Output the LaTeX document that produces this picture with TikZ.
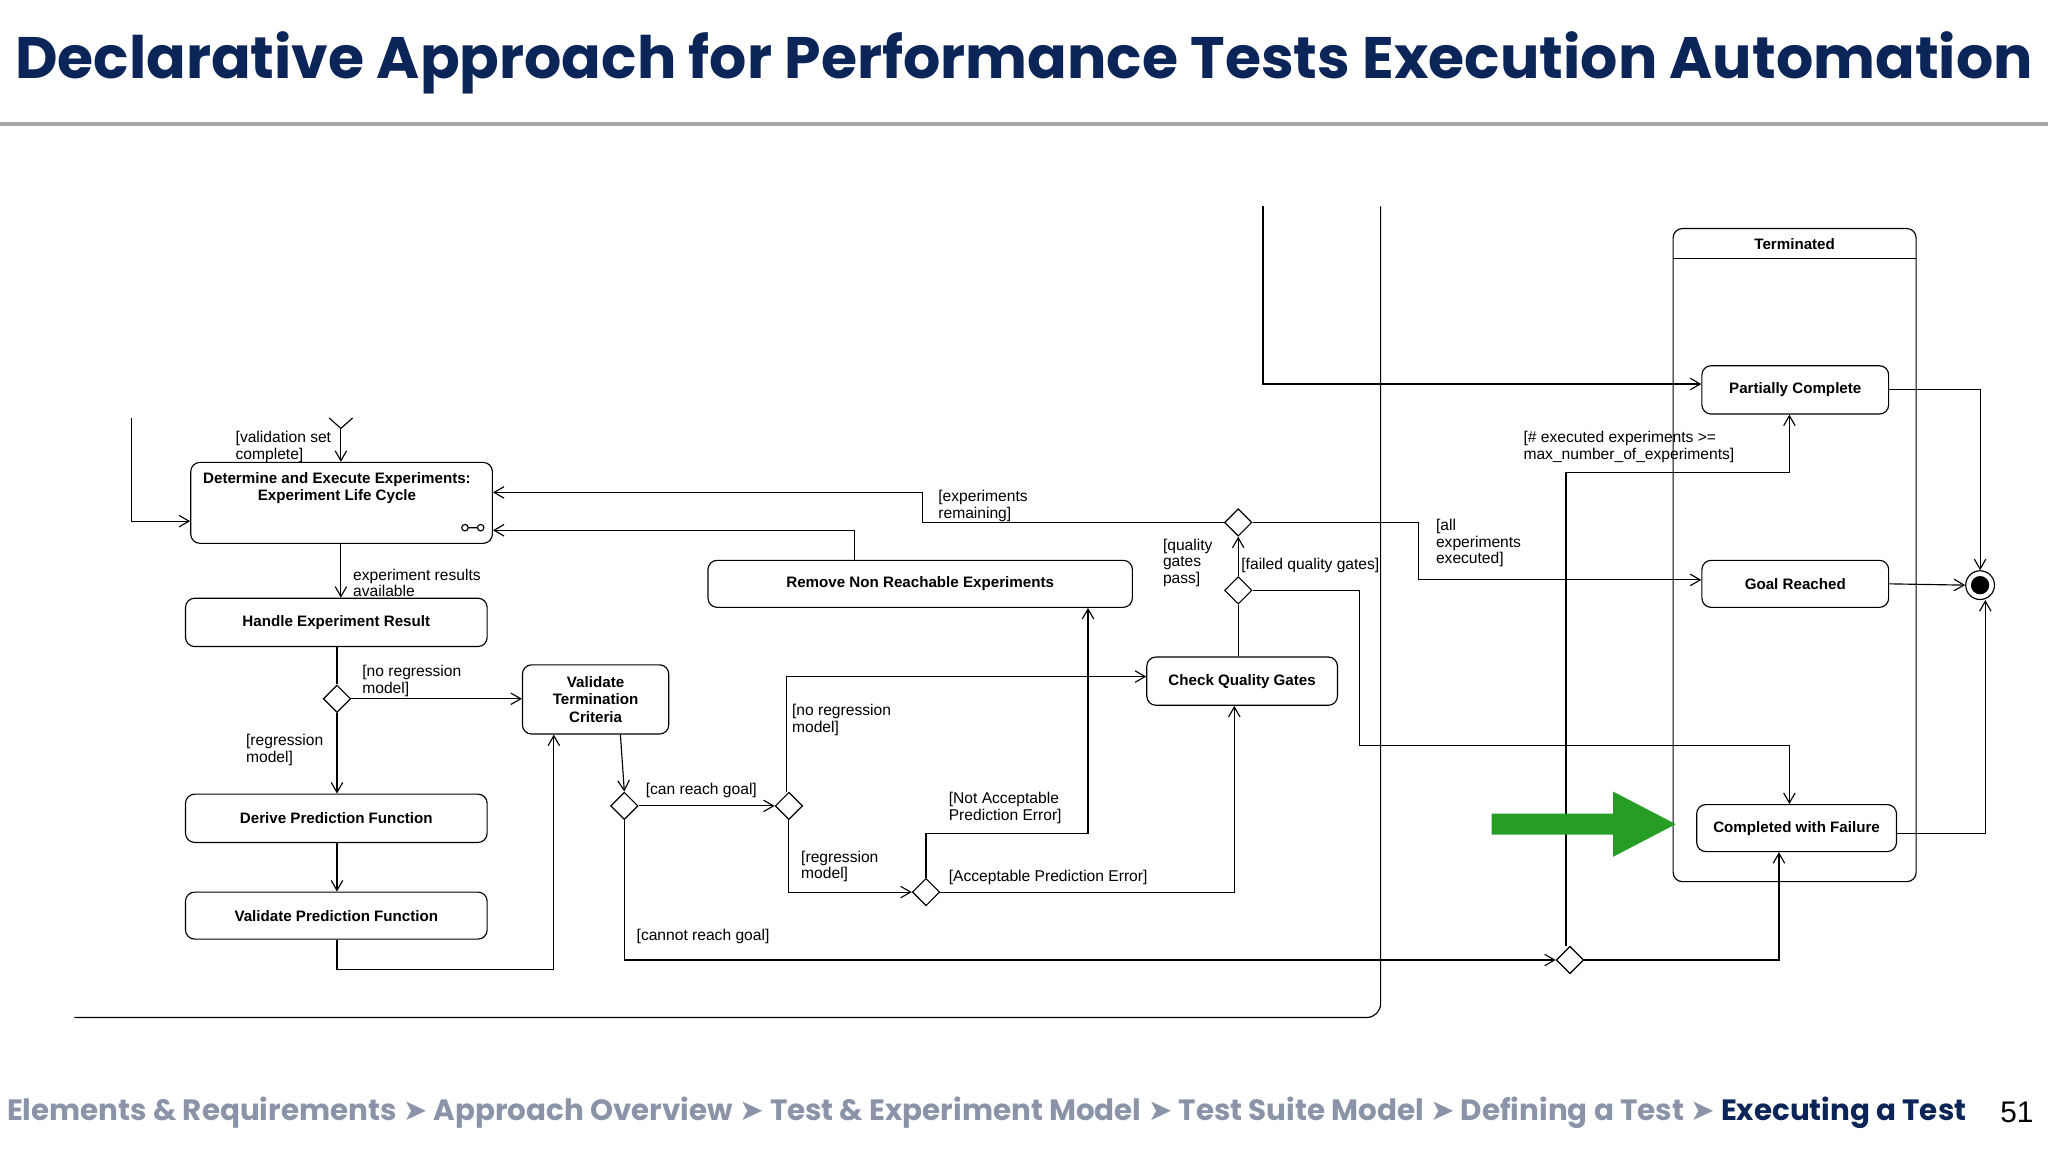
\documentclass[tikz,border=0pt]{standalone}
\usepackage{fontspec}
\setmainfont{Liberation Sans}
\newfontfamily\ttlfont{Poppins}
\newfontfamily\arrfont{DejaVu Sans}
\usetikzlibrary{arrows.meta,shapes.geometric}
\definecolor{navy}{HTML}{0B2559}
\definecolor{crumb}{HTML}{8A93A8}
\newcommand{\sep}{{\arrfont\char"27A4}}
\begin{document}
\begin{tikzpicture}[x=0.02cm,y=-0.02cm,
  box/.style={draw,rounded corners=4pt,font=\fontsize{6.6}{7.6}\selectfont\bfseries,align=center,inner sep=1pt},
  dia/.style={draw,diamond,fill=white,minimum width=0.42cm,minimum height=0.42cm,inner sep=0pt},
  lbl/.style={font=\fontsize{6.8}{7.3}\selectfont,align=left,anchor=north west,inner sep=0pt},
  arr/.style={-{Straight Barb[angle=60:5pt]}},
  every path/.style={line width=0.5pt}]
\useasboundingbox (0,0) rectangle (1568,882);
% title
\node[font=\ttlfont\fontsize{25.5}{26}\selectfont\bfseries,text=navy] (title) at (784,48) {Declarative Approach for Performance Tests Execution Automation};
\draw[gray!70,line width=1.5pt] (0,95) -- (1568,95);
% boxes
\node[box,minimum width=4.62cm,minimum height=1.24cm] (det) at (261.5,385) {};
\node[font=\fontsize{6.6}{7.6}\selectfont\bfseries,align=center,anchor=north,inner sep=0pt] (dett) at (258,361) {Determine and Execute Experiments:\\Experiment Life Cycle};
\node[box,minimum width=4.62cm,minimum height=0.74cm] (hand) at (257.5,476.5) {Handle Experiment Result};
\node[box,minimum width=4.62cm,minimum height=0.74cm] (der) at (257.5,626.5) {Derive Prediction Function};
\node[box,minimum width=4.62cm,minimum height=0.72cm] (vpf) at (257.5,701) {Validate Prediction Function};
\node[box,minimum width=2.24cm,minimum height=1.06cm] (vtc) at (456,535.5) {Validate\\Termination\\Criteria};
\node[box,minimum width=6.5cm,minimum height=0.72cm] (rem) at (704.5,447) {Remove Non Reachable Experiments};
\node[box,minimum width=2.92cm,minimum height=0.74cm] (cqg) at (951,521.5) {Check Quality Gates};
\draw[rounded corners=4pt] (1281,175) rectangle (1467,675);
\draw (1281,198) -- (1467,198);
\node[font=\fontsize{6.6}{8}\selectfont\bfseries] (term) at (1374,187) {Terminated};
\node[box,minimum width=2.86cm,minimum height=0.74cm] (pc) at (1374.5,298.5) {Partially Complete};
\node[box,minimum width=2.86cm,minimum height=0.72cm] (gr) at (1374.5,447) {Goal Reached};
\node[box,minimum width=3.06cm,minimum height=0.72cm] (cwf) at (1375.5,634) {Completed with Failure};
\node[draw,circle,minimum size=0.44cm,inner sep=0pt] (fin) at (1516,448) {};
\fill (fin) circle (7);
% link icon
\draw (356,404) circle (2.5) (368,404) circle (2.5) (358.5,404) -- (365.5,404);
% diamonds
\node[dia] (d1) at (258,535) {};
\node[dia] (d2) at (478,617) {};
\node[dia] (d3) at (604,617) {};
\node[dia] (d5) at (709,683) {};
\node[dia] (d6) at (948,452) {};
\node[dia] (d7) at (948,400) {};
\node[dia] (d4) at (1202,735) {};
% frame
\coordinate (f1) at (967,294);
\draw[arr] (967,158) -- (f1) -- (f1 -| pc.west);
\draw[rounded corners=6pt] (1057,158) -- (1057,779) -- (57,779);
% left side
\coordinate (l1) at (101,399);
\draw[arr] (101,320) -- (l1) -- (l1 -| det.west);
\coordinate (fk) at (261,328);
\draw (252,320) -- (fk) -- (270,320);
\draw[arr] (fk) -- (fk |- det.north);
\node[lbl] (t1) at (180,330) {[validation set\\complete]};
\draw[arr] (det.south -| 261,0) -- (hand.north -| 261,0);
\node[lbl] (t2) at (270,435) {experiment results\\available};
\draw (hand.south -| d1) -- (d1.north);
\draw[arr] (d1.east) -- (d1 -| vtc.west);
\node[lbl] (t3) at (277,509) {[no regression\\model]};
\draw[arr] (d1.south) -- (d1 |- der.north);
\node[lbl] (t4) at (188,562) {[regression\\model]};
\draw[arr] (der.south -| d1) -- (vpf.north -| d1);
\coordinate (c1) at (258,742);
\coordinate (c2) at (424,742);
\draw[arr] (vpf.south -| c1) -- (c1) -- (c2) -- (c2 |- vtc.south);
\draw[arr] (vtc.south -| 475,0) -- (d2.north);
\draw[arr] (d2.east) -- (d3.west);
\node[lbl] (t5) at (494,599) {[can reach goal]};
\coordinate (c3) at (478,735);
\draw[arr] (d2.south) -- (c3) -- (d4.west);
\node[lbl] (t6) at (487,711) {[cannot reach goal]};
\coordinate (c4) at (602,518);
\draw[arr] (d3.north -| c4) -- (c4) -- (c4 -| cqg.west);
\node[lbl] (t7) at (606,539) {[no regression\\model]};
\coordinate (c5) at (604,683);
\draw[arr] (d3.south) -- (c5) -- (d5.west);
\node[lbl] (t8) at (613,651) {[regression\\model]};
\coordinate (c6) at (709,638);
\coordinate (c7) at (833,638);
\draw[arr] (d5.north) -- (c6) -- (c7) -- (c7 |- rem.south);
\node[lbl] (t9) at (726,606) {[Not Acceptable\\Prediction Error]};
\coordinate (c8) at (945,683);
\draw[arr] (d5.east) -- (c8) -- (c8 |- cqg.south);
\node[lbl] (t10) at (726,666) {[Acceptable Prediction Error]};
\draw (cqg.north -| d6) -- (d6.south);
\draw[arr] (d6.north) -- (d7.south);
\node[lbl] (t11) at (890,412) {[quality\\gates\\pass]};
\coordinate (c9) at (1041,452);
\coordinate (c10) at (1041,571);
\coordinate (c11) at (1370,571);
\draw[arr] (d6.east) -- (c9) -- (c10) -- (c11) -- (c11 |- cwf.north);
\node[lbl] (t12) at (950,427) {[failed quality gates]};
\coordinate (c12) at (706,400);
\coordinate (c13) at (706,377);
\draw[arr] (d7.west) -- (c12) -- (c13) -- (c13 -| det.east);
\node[lbl] (t13) at (718,375) {[experiments\\remaining]};
\coordinate (c14) at (1086,400);
\coordinate (c15) at (1086,444);
\draw[arr] (d7.east) -- (c14) -- (c15) -- (c15 -| gr.west);
\node[lbl] (t14) at (1099,397) {[all\\experiments\\executed]};
\coordinate (c16) at (654,406);
\draw[arr] (rem.north -| c16) -- (c16) -- (c16 -| det.east);
\coordinate (c17) at (1199,362);
\coordinate (c18) at (1370,362);
\draw[arr] (d4.north -| c17) -- (c17) -- (c18) -- (c18 |- pc.south);
\node[lbl] (t15) at (1166,330) {[\# executed experiments >=\\max\_number\_of\_experiments]};
\coordinate (c19) at (1362,735);
\draw[arr] (d4.east) -- (c19) -- (c19 |- cwf.south);
% to final
\coordinate (c20) at (1516,298);
\draw[arr] (pc.east |- c20) -- (c20) -- (fin.north);
\draw[arr] (gr.east) -- (fin.west);
\coordinate (c21) at (1520,638);
\draw[arr] (cwf.east |- c21) -- (c21) -- (c21 |- fin.south);
% green arrow
\fill[green!55!black!85] (1142,623) -- (1235,623) -- (1235,606) -- (1283,631) -- (1235,656) -- (1235,639) -- (1142,639) -- cycle;
% breadcrumb
\node[anchor=west,inner sep=0pt,font=\ttlfont\fontsize{12.8}{14}\selectfont\bfseries,text=crumb] (bc) at (5,852)
 {Elements \& Requirements \sep{} Approach Overview \sep{} Test \& Experiment Model \sep{} Test Suite Model \sep{} Defining a Test \sep{} \textcolor{navy}{Executing a Test}};
\node[anchor=west,inner sep=0pt,font=\fontsize{13}{14}\selectfont] (pg) at (1531,852) {51};
\end{tikzpicture}
\end{document}
